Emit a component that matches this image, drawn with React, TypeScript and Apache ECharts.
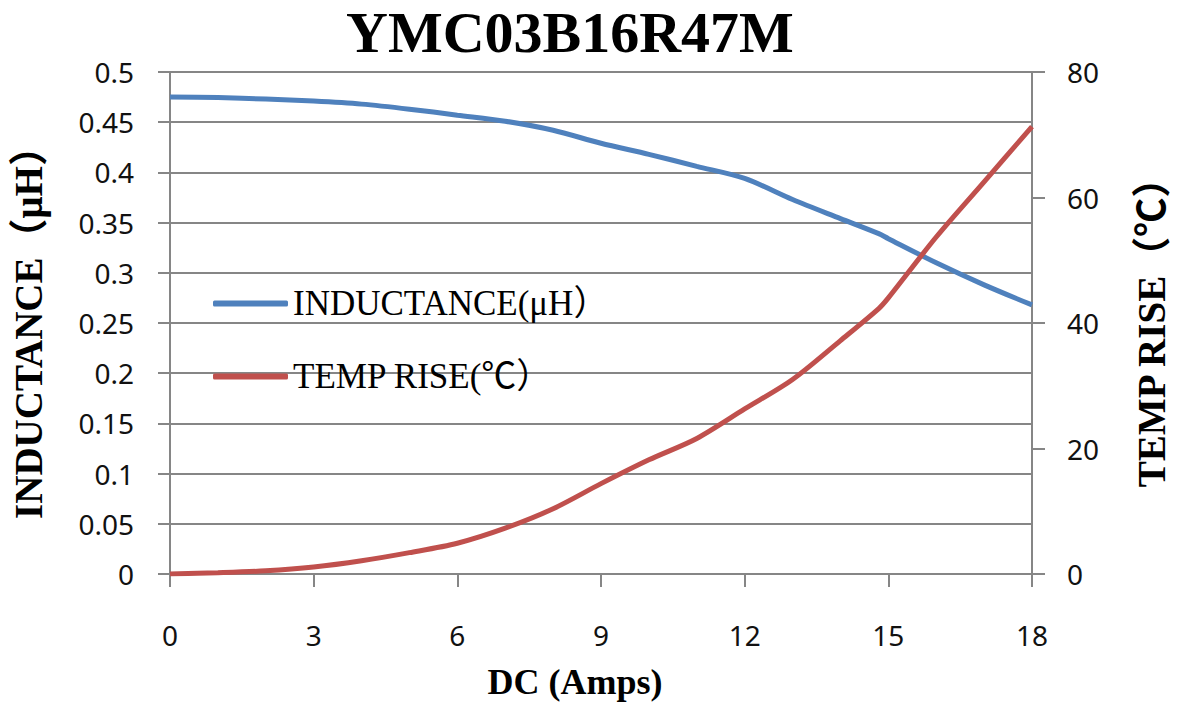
import React, { useEffect, useRef } from "react";
import * as echarts from "echarts";

const titleText = "YMC03B16R47M";
const current = [0, 1, 2, 3, 4, 5, 6, 7, 8, 9, 10, 11, 12, 13, 14, 14.8, 15, 16, 17, 18];
const inductance = [0.475, 0.4745, 0.473, 0.471, 0.468, 0.463, 0.457, 0.451, 0.442, 0.429, 0.418, 0.406, 0.394, 0.373, 0.354, 0.339, 0.334, 0.31, 0.288, 0.268];
const tempRise = [0, 0.2, 0.5, 1.1, 2.1, 3.4, 4.9, 7.3, 10.4, 14.4, 18.2, 21.6, 26.3, 31, 37.2, 42.3, 44, 53.7, 62.5, 71.3];
const seriesNames = ["INDUCTANCE(μH）", "TEMP RISE(℃）"];
const xName = "DC (Amps)";
const yLeftName = "INDUCTANCE（μH）";
const yRightName = "TEMP RISE（℃）";

const GRAY = "#868686";
const SERIF = "'Liberation Serif', 'Times New Roman', 'Noto Sans CJK SC', serif";
const SANS = "'Noto Sans', sans-serif";

export default function App() {
  const ref = useRef<HTMLDivElement>(null);
  useEffect(() => {
    if (!ref.current) return;
    const chart = echarts.init(ref.current, undefined, { renderer: "svg" });
    const pair = (ys: number[]) => current.map((x, i) => [x, ys[i]]);
    chart.setOption({
      animation: false,
      backgroundColor: "#ffffff",
      title: {
        text: titleText,
        left: 346,
        top: 3,
        padding: 0,
        textStyle: { fontFamily: SERIF, fontWeight: "bold", fontSize: 58, color: "#000" },
      },
      legend: {
        orient: "vertical",
        left: 213,
        top: 286,
        padding: 0,
        itemWidth: 75,
        itemHeight: 6,
        itemGap: 38,
        icon: "roundRect",
        data: seriesNames,
        textStyle: { fontFamily: SERIF, fontSize: 35, color: "#000" },
      },
      grid: { left: 170, right: 146, top: 72, bottom: 128, outerBoundsMode: "none" },
      xAxis: {
        type: "value",
        min: 0,
        max: 18,
        interval: 3,
        name: xName,
        nameLocation: "middle",
        nameGap: 90,
        nameTextStyle: { fontFamily: SERIF, fontWeight: "bold", fontSize: 36, color: "#000", padding: [0, 52, 0, 0] },
        axisLine: { show: true, lineStyle: { color: GRAY, width: 2 } },
        axisTick: { show: true, length: 13, lineStyle: { color: GRAY, width: 2 } },
        axisLabel: { fontFamily: SANS, fontSize: 28, color: "#111", margin: 47 },
        splitLine: { show: false },
      },
      yAxis: [
        {
          type: "value",
          min: 0,
          max: 0.5,
          interval: 0.05,
          name: yLeftName,
          nameLocation: "middle",
          nameGap: 122,
          nameTextStyle: { fontFamily: SERIF, fontWeight: "bold", fontSize: 39, color: "#000" },
          axisLine: { show: true, lineStyle: { color: GRAY, width: 2 } },
          axisTick: { show: true, length: 12, lineStyle: { color: GRAY, width: 2 } },
          axisLabel: {
            fontFamily: SANS,
            fontSize: 28,
            color: "#111",
            margin: 36,
            formatter: (v: number) => String(+v.toFixed(2)),
          },
          splitLine: { show: true, lineStyle: { color: GRAY, width: 2 } },
        },
        {
          type: "value",
          min: 0,
          max: 80,
          interval: 20,
          name: yRightName,
          nameLocation: "middle",
          nameGap: 100,
          nameTextStyle: { fontFamily: SERIF, fontWeight: "bold", fontSize: 39, color: "#000" },
          axisLine: { show: true, lineStyle: { color: GRAY, width: 2 } },
          axisTick: { show: true, length: 13, lineStyle: { color: GRAY, width: 2 } },
          axisLabel: { fontFamily: SANS, fontSize: 28, color: "#111", margin: 35 },
          splitLine: { show: false },
        },
      ],
      series: [
        {
          name: seriesNames[0],
          type: "line",
          yAxisIndex: 0,
          data: pair(inductance),
          smooth: 0.3,
          showSymbol: false,
          color: "#4f81bd",
          lineStyle: { width: 5, color: "#4f81bd" },
        },
        {
          name: seriesNames[1],
          type: "line",
          yAxisIndex: 1,
          data: pair(tempRise),
          smooth: 0.3,
          showSymbol: false,
          color: "#c0504d",
          lineStyle: { width: 5, color: "#c0504d" },
        },
      ],
    });
    return () => chart.dispose();
  }, []);
  return <div ref={ref} style={{ width: 1178, height: 702, position: "absolute", left: 0, top: 0 }} />;
}
